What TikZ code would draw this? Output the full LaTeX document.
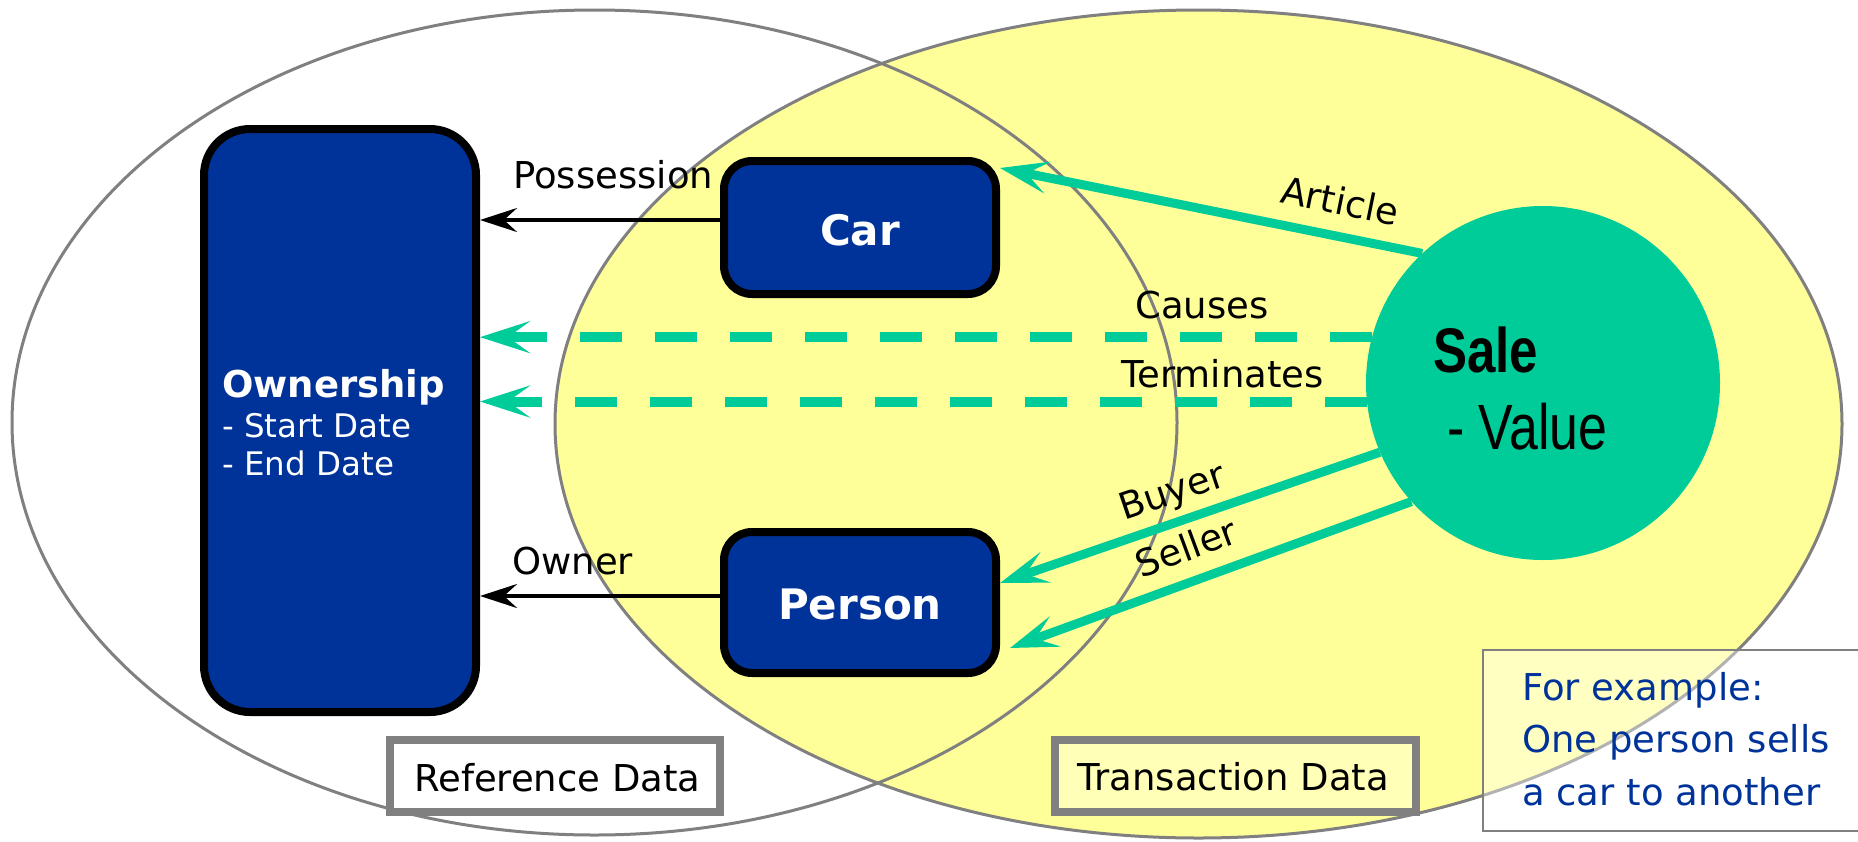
\documentclass[tikz,border=0pt]{standalone}
\usepackage{fontspec}
\setmainfont{DejaVu Sans}
\newfontfamily\salefont{Liberation Sans}
\usetikzlibrary{arrows.meta,calc}
\definecolor{boxblue}{RGB}{0,51,153}
\definecolor{salegreen}{RGB}{0,204,153}
\definecolor{paleyellow}{RGB}{255,255,153}
\definecolor{rimgray}{RGB}{128,128,128}
\newcommand\lblsize{\fontsize{37}{44}\selectfont}
\begin{document}
\begin{tikzpicture}[x=1pt,y=-1pt,
  entity/.style={draw=black, line width=8pt, fill=boxblue, rounded corners=#1, inner sep=0pt},
  entity/.default=28pt,
  lbl/.style={font=\lblsize, text=black, inner sep=0pt},
  tagbox/.style={draw=rimgray, line width=8pt, inner sep=0pt, minimum height=72pt},
  refline/.style={draw=black, line width=4pt, -{Stealth[length=37pt,width=24pt,inset=13pt]}},
  relline/.style={draw=salegreen, line width=9pt, -{Stealth[length=48pt,width=32pt,inset=21pt]}},
  eventline/.style={draw=salegreen, line width=10pt, dash pattern=on 42pt off 33pt,
    -{Stealth[length=50pt,width=32pt,inset=22pt]}},
  venn/.style={draw=rimgray, line width=3pt}]

% canvas
\fill[white] (0,0) rectangle (1858,841);
\useasboundingbox (0,0) rectangle (1858,841);

% the two data areas
\fill[white] (594.5,422.5) ellipse [x radius=582.5, y radius=412.5];
\path[venn, fill=paleyellow] (1198.5,424) ellipse [x radius=643.5, y radius=414];
\path[venn] (594.5,422.5) ellipse [x radius=582.5, y radius=412.5];

% entities
\node[entity=46pt, minimum width=272pt, minimum height=583pt] (own) at (340,420.5) {};
\node[anchor=base west, font=\fontsize{37}{44}\selectfont\bfseries, text=white, inner sep=0pt] (ownname) at (222,397) {Ownership};
\node[anchor=base west, font=\fontsize{32.5}{38}\selectfont, text=white, inner sep=0pt] (ownstart) at (222,437) {- Start Date};
\node[anchor=base west, font=\fontsize{32.5}{38}\selectfont, text=white, inner sep=0pt] (ownend) at (222,475) {- End Date};

\node[entity, minimum width=272pt, minimum height=133pt] (car) at (860,227.5) {};
\node[anchor=base, font=\fontsize{42}{50}\selectfont\bfseries, text=white, inner sep=0pt] (carname) at (860,245) {Car};

\node[entity, minimum width=272pt, minimum height=141pt] (person) at (860,602.5) {};
\node[anchor=base, font=\fontsize{42}{50}\selectfont\bfseries, text=white, inner sep=0pt] (personname) at (860,619) {Person};

\node[circle, fill=salegreen, minimum size=354pt, inner sep=0pt] (sale) at (1543,383) {};
\node[anchor=base west, inner sep=0pt] (salename) at (1433,372)
  {\scalebox{0.81}[1]{\salefont\fontsize{63}{70}\selectfont\bfseries Sale}};
\node[anchor=base west, inner sep=0pt] (salevalue) at (1447,449)
  {\scalebox{0.81}[1]{\salefont\fontsize{64}{70}\selectfont - Value}};

% reference connectors
\draw[refline] (car.west |- 0,220) -- (own.east |- 0,220);
\node[lbl, anchor=base west] (possession) at (513,188) {Possession};
\draw[refline] (person.west |- 0,596) -- (own.east |- 0,596);
\node[lbl, anchor=base west] (owner) at (512,574) {Owner};

% events raised by the sale
\draw[eventline] (sale.165) -- (own.east |- sale.165);
\node[lbl, anchor=base west] (causes) at (1135,318) {Causes};
\draw[eventline] (sale.186) -- (own.east |- sale.186);
\node[lbl, anchor=base west] (terminates) at (1121,387) {Terminates};

% roles of the sale
\coordinate (articletip) at (car.east |- 0,168);
\coordinate (buyertip) at (person.east |- 0,583);
\coordinate (sellertip) at ($(person.east |- 0,648)+(10,0)$);
\draw[relline] (sale.133) -- (articletip);
\node[lbl, rotate=-11.4] (article) at (1340,201) {Article};
\draw[relline] (sale.203) -- (buyertip);
\node[lbl, rotate=18.7] (buyer) at (1173,494) {Buyer};
\draw[relline] (sale.222) -- (sellertip);
\node[lbl, rotate=20.3] (seller) at (1186,547) {Seller};

% area captions
\node[tagbox, fill=white, minimum width=330pt] (refbox) at (555,776) {};
\node[lbl, anchor=base west] (reftext) at (414,791) {Reference Data};
\node[tagbox, fill=white, fill opacity=0.3, minimum width=361pt] (transbox) at (1235.5,776) {};
\node[lbl, anchor=base west] (transtext) at (1077,790) {Transaction Data};

% example note
\node[draw=rimgray, line width=2pt, fill=white, fill opacity=0.4, anchor=north west,
      minimum width=380pt, minimum height=181pt, inner sep=0pt] (example) at (1482,649) {};
\node[lbl, text=boxblue, anchor=base west] (ex1) at (1522,700) {For example:};
\node[lbl, text=boxblue, anchor=base west] (ex2) at (1522,752) {One person sells};
\node[lbl, text=boxblue, anchor=base west] (ex3) at (1522,805) {a car to another};
\end{tikzpicture}
\end{document}
